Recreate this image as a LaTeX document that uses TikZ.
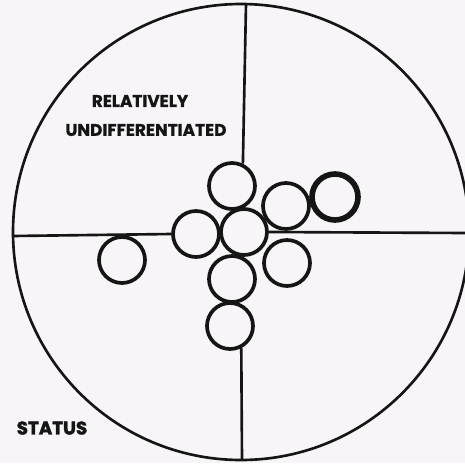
\documentclass[tikz,border=0pt]{standalone}
\usepackage{fontspec}
\setsansfont{Poppins}
\usepackage{tikz}
\usetikzlibrary{positioning}
\definecolor{ScanPaper}{HTML}{F7F5F7}
\definecolor{ScanInk}{HTML}{151515}
\tikzset{
  ring/.style={circle,draw=ScanInk,line width=2.1pt,minimum size=0.92cm,inner sep=0pt},
  axisline/.style={draw=ScanInk,line width=1.5pt},
  tag/.style={font=\sffamily\bfseries\fontsize{9.6}{10}\selectfont,text=ScanInk,inner sep=0pt}
}

\begin{document}
\begin{tikzpicture}[x=1cm,y=1cm]
  \useasboundingbox (-4.82,-4.62) rectangle (4.48,4.64);
  \fill[ScanPaper] (-4.82,-4.62) rectangle (4.48,4.64);
  \clip (-4.82,-4.62) rectangle (4.48,4.64);
  % outer field
  \node[circle,draw=ScanInk,line width=1.5pt,minimum size=9.12cm,inner sep=0pt] (rim) at (0,0) {};
  \coordinate (vtop) at (0.10,4.56);
  \coordinate (vbot) at (0.02,-4.56);
  \coordinate (hleft) at (-4.56,-0.08);
  \coordinate (hright) at (4.50,-0.02);
  % cluster
  \node[ring] (mid) at (0.06,0) {};
  \node[ring] (up) at (-0.18,0.92) {};
  \node[ring] (lft) at (-0.90,-0.04) {};
  \node[ring] (dn) at (-0.18,-0.94) {};
  \node[ring] (bot) at (-0.22,-1.88) {};
  \node[ring] (upright) at (0.90,0.52) {};
  \node[ring,line width=3.2pt] (far) at (1.88,0.70) {};
  \node[ring] (lowright) at (0.92,-0.62) {};
  \node[ring] (outlier) at (-2.38,-0.56) {};
  % axes
  \draw[axisline] (vtop) -- (up.64);
  \draw[axisline] (bot.-63) -- (vbot);
  \draw[axisline] (hleft) -- (lft.west);
  \draw[axisline] (mid.east) -- (hright);
  % labels
  \node[tag] (rel) at (-2.02,2.62) {\addfontfeature{FakeBold=1}RELATIVELY};
  \node[tag] (undiff) at (-1.90,2.04) {\addfontfeature{FakeBold=1}UNDIFFERENTIATED};
  \node[tag,font=\sffamily\bfseries\fontsize{10.4}{11}\selectfont] (status) at (-3.78,-3.92) {\addfontfeature{FakeBold=2}STATUS};
\end{tikzpicture}
\end{document}
